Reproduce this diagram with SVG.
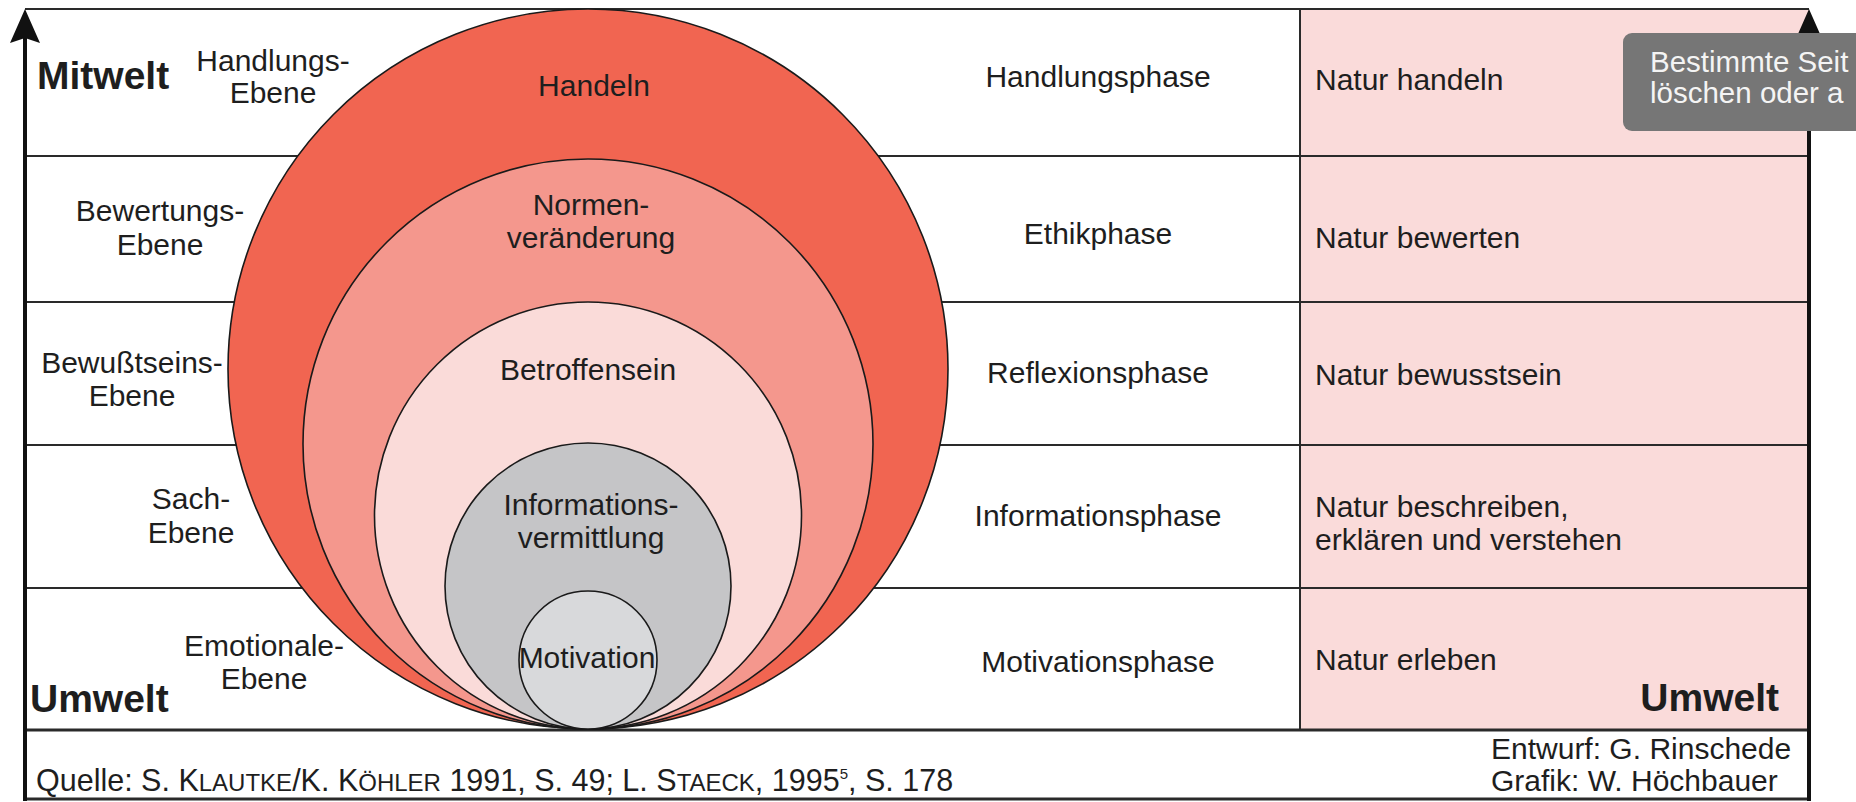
<svg xmlns="http://www.w3.org/2000/svg" width="1856" height="802" viewBox="0 0 1856 802">
<style>
text{font-family:"Liberation Sans",Arial,sans-serif;font-size:30px;fill:#1e1e1e}
.c{text-anchor:middle}
.b{font-weight:bold;font-size:39px}
.ln{stroke:#2a2a2a;stroke-width:2;fill:none}
.ax{stroke:#111;stroke-width:4;fill:none}
.ring{stroke:#1a1a1a;stroke-width:1.6}
.sc{font-size:24px}
.tip{fill:#f4f4f4;font-size:29.5px}
</style>
<defs>
<path id="ah" d="M0,0 L15,34 L0,29 L-15,34 Z" fill="#111"/>
</defs>
<rect width="1856" height="802" fill="#fff"/>
<g id="pink-column"><rect x="1300" y="9" width="509" height="721" fill="#fadbda"/></g>
<g id="grid">
<line class="ln" x1="25" y1="9" x2="1809" y2="9"/>
<line class="ln" x1="25" y1="156" x2="1809" y2="156"/>
<line class="ln" x1="25" y1="302" x2="1809" y2="302"/>
<line class="ln" x1="25" y1="445" x2="1809" y2="445"/>
<line class="ln" x1="25" y1="588" x2="1809" y2="588"/>
<line class="ln" x1="1300" y1="9" x2="1300" y2="730"/>
<line class="ln" x1="25" y1="730" x2="1809" y2="730" style="stroke-width:3"/>
<line class="ln" x1="25" y1="799" x2="1809" y2="799" style="stroke-width:3"/>
</g>
<g id="circles">
<circle id="c-handeln" class="ring" cx="588" cy="369" r="360" fill="#f16551"/>
<circle id="c-normen" class="ring" cx="588" cy="444" r="285" fill="#f4978d"/>
<circle id="c-betroffen" class="ring" cx="588" cy="515.5" r="213.5" fill="#fadbd9"/>
<circle id="c-info" class="ring" cx="588" cy="586" r="143" fill="#c5c5c7"/>
<circle id="c-motivation" class="ring" cx="588" cy="660" r="69" fill="#d8d9db"/>
</g>
<g id="circle-labels">
<text class="c" x="594" y="96">Handeln</text>
<text class="c" x="591" y="215">Normen-</text>
<text class="c" x="591" y="248">veränderung</text>
<text class="c" x="588" y="380">Betroffensein</text>
<text class="c" x="591" y="515">Informations-</text>
<text class="c" x="591" y="548">vermittlung</text>
<text class="c" x="587" y="668">Motivation</text>
</g>
<g id="axes">
<line class="ax" x1="25" y1="30" x2="25" y2="801"/>
<line class="ax" x1="1809" y1="30" x2="1809" y2="801"/>
<use href="#ah" x="25" y="9"/>
<use href="#ah" x="1809" y="9"/>
</g>
<g id="left-labels">
<text class="b" x="37" y="89">Mitwelt</text>
<text class="b" x="30" y="712">Umwelt</text>
<text class="c" x="273" y="71">Handlungs-</text>
<text class="c" x="273" y="103">Ebene</text>
<text class="c" x="160" y="221">Bewertungs-</text>
<text class="c" x="160" y="255">Ebene</text>
<text class="c" x="132" y="373">Bewußtseins-</text>
<text class="c" x="132" y="406">Ebene</text>
<text class="c" x="191" y="509">Sach-</text>
<text class="c" x="191" y="543">Ebene</text>
<text class="c" x="264" y="656">Emotionale-</text>
<text class="c" x="264" y="689">Ebene</text>
</g>
<g id="phases">
<text class="c" x="1098" y="87">Handlungsphase</text>
<text class="c" x="1098" y="244">Ethikphase</text>
<text class="c" x="1098" y="383">Reflexionsphase</text>
<text class="c" x="1098" y="526">Informationsphase</text>
<text class="c" x="1098" y="672">Motivationsphase</text>
</g>
<g id="nature">
<text x="1315" y="90">Natur handeln</text>
<text x="1315" y="248">Natur bewerten</text>
<text x="1315" y="385">Natur bewusstsein</text>
<text x="1315" y="517">Natur beschreiben,</text>
<text x="1315" y="550">erklären und verstehen</text>
<text x="1315" y="670">Natur erleben</text>
<text class="b" x="1779" y="711" style="text-anchor:end">Umwelt</text>
</g>
<g id="footer">
<text x="36" y="791" style="font-size:30.5px">Quelle: S. K<tspan class="sc">LAUTKE</tspan>/K. K<tspan class="sc">ÖHLER</tspan> 1991, S. 49; L. S<tspan class="sc">TAECK</tspan>, 1995<tspan style="font-size:15px" dy="-12">5</tspan><tspan dy="12">, S. 178</tspan></text>
<text x="1491" y="759">Entwurf: G. Rinschede</text>
<text x="1491" y="791">Grafik: W. Höchbauer</text>
</g>
<g id="tooltip">
<rect x="1623" y="33" width="280" height="98" rx="9" fill="#767676"/>
<text class="tip" x="1650" y="72">Bestimmte Seit</text>
<text class="tip" x="1650" y="103">löschen oder a</text>
</g>
</svg>
